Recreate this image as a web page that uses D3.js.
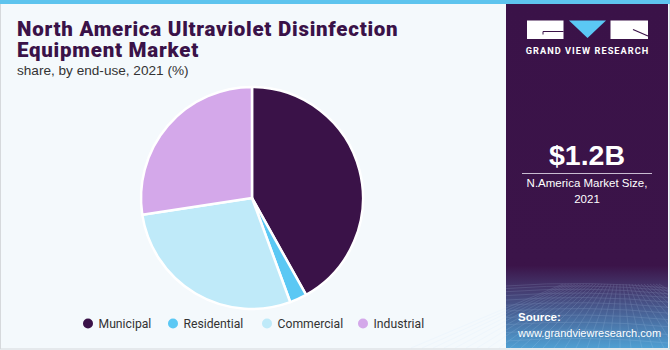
<!DOCTYPE html>
<html>
<head>
<meta charset="utf-8">
<script src="https://cdn.jsdelivr.net/npm/d3@7"></script>
<style>
  html, body { margin: 0; padding: 0; background: #ffffff; }
  svg { display: block; }
</style>
</head>
<body>
<svg id="chart" width="670" height="350"></svg>
<script>
// End-use shares, 2021 (%)
const categories = ["Municipal", "Residential", "Commercial", "Industrial"];
const shares = [41.9, 2.5, 28.2, 27.4];
const colors = ["#3a1248", "#5bc8f4", "#bfeaf9", "#d4a8ea"];

const titleLines = ["North America Ultraviolet Disinfection", "Equipment Market"];
const subtitle = "share, by end-use, 2021 (%)";
const marketSize = "$1.2B";
const marketLabel = ["N.America Market Size,", "2021"];

const svg = d3.select("#chart");
const W = 670, H = 350;

// page frame
svg.append("rect").attr("x", 0).attr("y", 0).attr("width", W).attr("height", H).attr("fill", "#f4f9fc");
svg.append("rect").attr("x", 0.5).attr("y", 0.5).attr("width", W - 1).attr("height", H - 1.5)
  .attr("fill", "none").attr("stroke", "#d6d9dc");
svg.append("rect").attr("x", 0).attr("y", 0).attr("width", W).attr("height", 4).attr("fill", "#5ec4ee");

// side panel
const defs = svg.append("defs");
const grad = defs.append("linearGradient").attr("id", "panelGrad")
  .attr("x1", 0).attr("y1", 0).attr("x2", 0).attr("y2", 1);
grad.append("stop").attr("offset", "0%").attr("stop-color", "#3a1248");
grad.append("stop").attr("offset", "76%").attr("stop-color", "#3b1449");
grad.append("stop").attr("offset", "82%").attr("stop-color", "#433469");
grad.append("stop").attr("offset", "100%").attr("stop-color", "#4f9fd2");

const px = 506, pw = 162, py = 4, ph = 344;
svg.append("rect").attr("x", px).attr("y", py).attr("width", pw).attr("height", ph).attr("fill", "url(#panelGrad)");

// faint grid texture at the bottom of the panel
const mesh = svg.append("g").attr("opacity", 0.22).attr("stroke", "#c9e6ff").attr("stroke-width", 0.6).attr("fill", "none");
for (let i = 0; i < 14; i++) {
  const y = 286 + i * i * 0.33 + i * 2.2;
  if (y > ph + py) break;
  mesh.append("path").attr("d", `M${px},${y} Q${px + pw / 2},${y - 6} ${px + pw},${y + 2}`);
}
for (let i = -8; i <= 24; i++) {
  const x0 = px + pw / 2 + i * 3;
  const x1 = px + pw / 2 + (i - 8) * 11;
  mesh.append("line").attr("x1", x0).attr("y1", 284).attr("x2", x1).attr("y2", ph + py);
}

// logo
const logo = svg.append("g");
logo.append("rect").attr("x", 527).attr("y", 20.5).attr("width", 36.5).attr("height", 18.5).attr("fill", "#ffffff");
logo.append("path").attr("d", "M543,31.5 L563.5,31.5 M543,31.5 L543,34.5").attr("stroke", "#3a1248").attr("stroke-width", 1).attr("fill", "none");
logo.append("path").attr("d", "M569,20.5 L606,20.5 L587.5,38 Z").attr("fill", "#5bc8f4");
logo.append("rect").attr("x", 610.5).attr("y", 20.5).attr("width", 37.5).attr("height", 18.5).attr("fill", "#ffffff");
logo.append("path").attr("d", "M633,29.5 L648,36").attr("stroke", "#3a1248").attr("stroke-width", 1.2);
logo.append("text").attr("x", 587.5).attr("y", 53.5).attr("text-anchor", "middle")
  .attr("font-family", "Roboto, 'Liberation Sans', sans-serif").attr("font-weight", 700)
  .attr("font-size", 9.2).attr("letter-spacing", 1.05).attr("fill", "#ffffff")
  .text("GRAND VIEW RESEARCH");

// market size block
svg.append("text").attr("x", 587).attr("y", 165).attr("text-anchor", "middle")
  .attr("font-family", "'Liberation Sans', Arial, sans-serif").attr("font-weight", 700)
  .attr("font-size", 28.5).attr("fill", "#ffffff").text(marketSize);
svg.append("line").attr("x1", 522).attr("x2", 652).attr("y1", 173.5).attr("y2", 173.5)
  .attr("stroke", "#c9bcd2").attr("stroke-width", 1);
marketLabel.forEach((t, i) => {
  svg.append("text").attr("x", 587).attr("y", 187 + i * 16).attr("text-anchor", "middle")
    .attr("font-family", "'Liberation Sans', Arial, sans-serif")
    .attr("font-size", 11.5).attr("fill", "#ffffff").text(t);
});

// source
svg.append("text").attr("x", 518).attr("y", 321)
  .attr("font-family", "'Liberation Sans', Arial, sans-serif").attr("font-weight", 700)
  .attr("font-size", 11.5).attr("fill", "#ffffff").text("Source:");
svg.append("text").attr("x", 518).attr("y", 337)
  .attr("font-family", "'Liberation Sans', Arial, sans-serif")
  .attr("font-size", 11).attr("fill", "#ffffff").text("www.grandviewresearch.com");

// title: two lines set tightly in one text block
const title = svg.append("text").attr("x", 17).attr("y", 36)
  .attr("font-family", "Roboto, 'Liberation Sans', sans-serif").attr("font-weight", 900)
  .attr("font-size", 20.5).attr("letter-spacing", 0.75).attr("fill", "#3a1248");
titleLines.forEach((t, i) => {
  title.append("tspan").attr("x", 17).attr("dy", i === 0 ? 0 : 21).text(t);
});
svg.append("text").attr("x", 17).attr("y", 75)
  .attr("font-family", "'Liberation Sans', Arial, sans-serif")
  .attr("font-size", 13.6).attr("fill", "#333333").text(subtitle);

// pie
const cx = 252, cy = 198, r = 111;
const pie = d3.pie().sort(null).value(d => d)(shares);
const arc = d3.arc().innerRadius(0).outerRadius(r);
svg.append("g").attr("transform", `translate(${cx},${cy})`)
  .selectAll("path").data(pie).join("path")
  .attr("d", arc)
  .attr("fill", (d, i) => colors[i])
  .attr("stroke", "#ffffff").attr("stroke-width", 2.5).attr("stroke-linejoin", "round");

// legend
const legendX = [88, 173, 267, 363];
const legend = svg.append("g");
categories.forEach((c, i) => {
  legend.append("circle").attr("cx", legendX[i]).attr("cy", 323.5).attr("r", 5).attr("fill", colors[i]);
  legend.append("text").attr("x", legendX[i] + 10.5).attr("y", 328)
    .attr("font-family", "Roboto, sans-serif").attr("font-size", 12.2)
    .attr("fill", "#333333").text(c);
});
</script>
</body>
</html>
